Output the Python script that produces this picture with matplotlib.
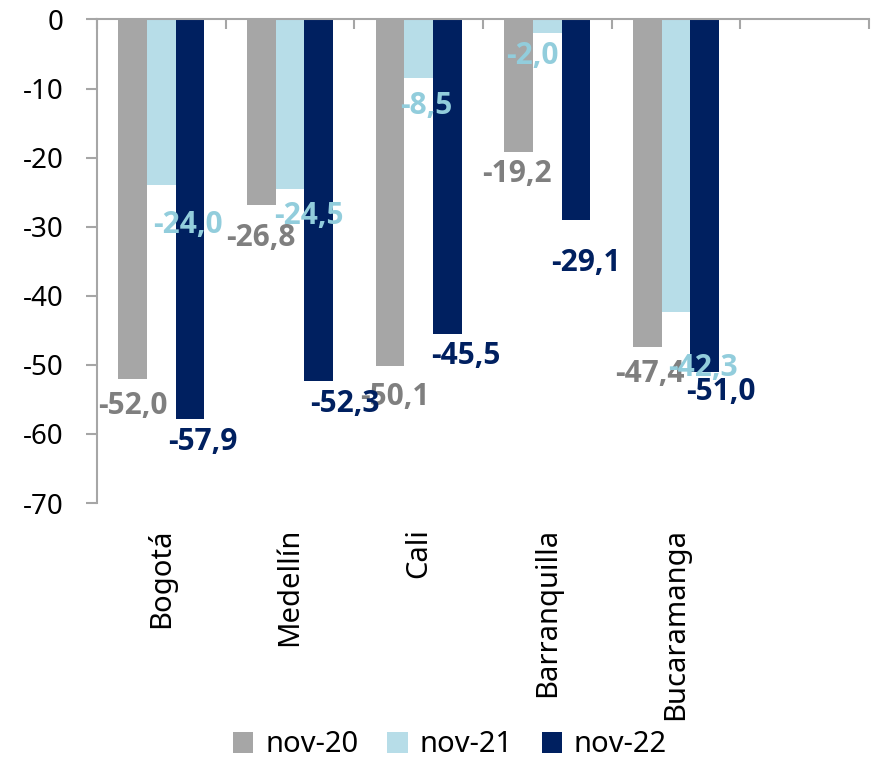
import numpy as np
import matplotlib.pyplot as plt

plt.rcParams['font.family'] = ['Noto Sans', 'DejaVu Sans']
plt.rcParams['axes.unicode_minus'] = False

ciudades = ["Bogotá", "Medellín", "Cali", "Barranquilla", "Bucaramanga"]
series = ["nov-20", "nov-21", "nov-22"]
nov20 = [-52.0, -26.8, -50.1, -19.2, -47.4]
nov21 = [-24.0, -24.5, -8.5, -2.0, -42.3]
nov22 = [-57.9, -52.3, -45.5, -29.1, -51.0]

colores = ["#A6A6A6", "#B7DDE8", "#002060"]
col_etq = ["#7F7F7F", "#92CDDC", "#002060"]
# desplazamiento de las etiquetas (pixeles), movidas a mano en el original
desp = [
    [(0, -27), (0, -33), (5, -31), (-2, -22), (3, -27)],
    [(27, -40), (19, -27), (8, -28), (-15, -23), (27, -56)],
    [(13, -23), (26, -23), (19, -22), (10, -43), (16, -20)],
]

fig = plt.figure(figsize=(8.73, 7.58), dpi=100)
ax = fig.add_axes([0.111, 0.3364, 0.8844, 0.6379])

x = np.arange(len(ciudades))
w = 0.223
valores = [nov20, nov21, nov22]
for k in range(3):
    pos = x + (k - 1) * w
    ax.bar(pos, valores[k], w, color=colores[k], label=series[k])
    for i in range(len(ciudades)):
        v = valores[k][i]
        ax.annotate(f"{v:.1f}".replace(".", ","), (pos[i], v),
                    xytext=desp[k][i], textcoords="offset pixels",
                    ha="center", va="center", fontsize=21.5, fontweight="bold",
                    family=["Open Sans", "DejaVu Sans"], color=col_etq[k])

ax.set_xlim(-0.5, 5.5)
ax.set_ylim(-70, 0)
ax.set_yticks(np.arange(-70, 1, 10))
ax.tick_params(axis="y", labelsize=20, length=8, color="#A6A6A6", width=1.5, pad=16)

ax.set_xticks(x)
ax.set_xticklabels(ciudades, rotation=90, fontsize=21)
ax.tick_params(axis="x", which="major", length=0, pad=18)
ax.set_xticks(np.arange(-0.5, 5.6, 1), minor=True)
ax.tick_params(axis="x", which="minor", bottom=False, top=True, direction="in",
               length=7, color="#A6A6A6", width=1.5)

for s in ["right", "bottom"]:
    ax.spines[s].set_visible(False)
for s in ["left", "top"]:
    ax.spines[s].set_color("#A6A6A6")
    ax.spines[s].set_linewidth(1.5)

fig.legend(loc="center", bbox_to_anchor=(450 / 873, 1 - 745 / 758), ncol=3,
           frameon=False, fontsize=21, handlelength=0.7, handleheight=0.7,
           handletextpad=0.4, columnspacing=1.0)

fig.savefig("out.png", dpi=100)
